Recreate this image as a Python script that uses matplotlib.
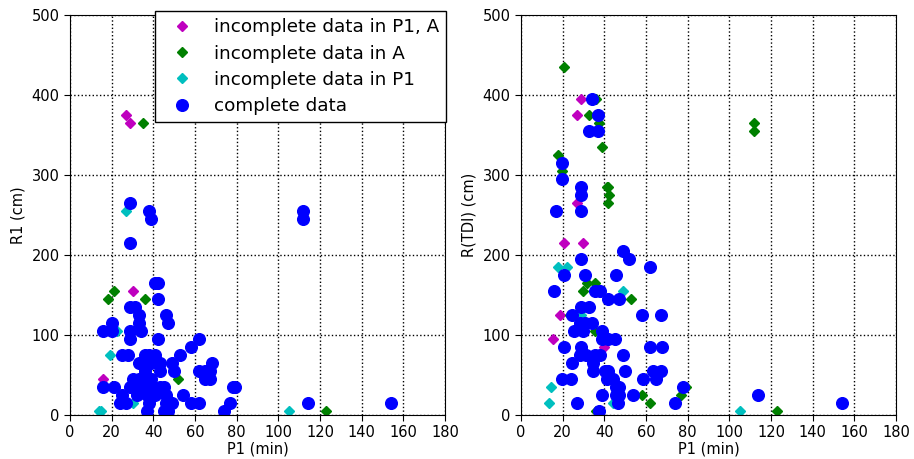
import matplotlib
matplotlib.use("Agg")
import matplotlib.pyplot as plt

# left panel: R1 vs P1
l_pa_x = [27, 29, 30, 16]
l_pa_y = [375, 365, 155, 45]
l_a_x = [35, 18, 21, 36, 52, 123]
l_a_y = [365, 145, 155, 145, 45, 5]
l_p_x = [27, 19, 22.5, 14, 15, 30, 105]
l_p_y = [255, 75, 105, 5, 5, 15, 5]
l_c_x = [29, 38, 39, 29, 112, 112, 114, 154,
         41, 42, 42, 29, 31, 33, 33, 46, 47,
         20, 16, 20, 29, 34, 29, 42, 62, 58,
         25, 28, 36, 38, 41, 53,
         33, 35, 39, 43, 49, 68,
         36, 43, 50, 62, 65, 67,
         30, 33, 36, 39, 65, 67,
         16, 21, 29, 33, 37, 39, 43, 45, 78, 79,
         25, 32, 37, 41, 46, 54,
         24, 27, 38, 46, 49, 58, 62, 77,
         37, 45, 47, 74]
l_c_y = [265, 255, 245, 215, 255, 245, 15, 15,
         165, 165, 145, 135, 135, 125, 115, 125, 115,
         115, 105, 105, 105, 105, 95, 95, 95, 85,
         75, 75, 75, 75, 75, 75,
         65, 65, 65, 65, 65, 65,
         55, 55, 55, 55, 55, 55,
         45, 45, 45, 45, 45, 45,
         35, 35, 35, 35, 35, 35, 35, 35, 35, 35,
         25, 25, 25, 25, 25, 25,
         15, 15, 15, 15, 15, 15, 15, 15,
         5, 5, 5, 5]

# right panel: R(TDI) vs P1
r_pa_x = [28.6, 26.7, 26.7, 20.6, 29.7, 18.7, 15.5, 39.8]
r_pa_y = [395, 375, 265, 215, 215, 125, 95, 85]
r_a_x = [20.6, 32.6, 37.6, 38.8, 17.9, 19.8, 41.1, 41.9, 42.4, 41.6,
         112, 112, 31.5, 35.5, 29.6, 52.6, 35.5, 58, 62, 76.7, 79.4,
         36, 123, 23.5, 36]
r_a_y = [435, 375, 365, 335, 325, 305, 285, 285, 275, 265,
         365, 355, 165, 165, 155, 145, 105, 25, 15, 25, 35,
         5, 5, 125, 395]
r_p_x = [17.9, 21.9, 48.8, 28.8, 14.5, 13.6, 44.3, 105]
r_p_y = [185, 185, 155, 125, 35, 15, 15, 5]
r_c_x = [34, 36.8, 32.6, 36.8, 19.8, 19.8, 28.6, 28.6, 16.8, 28.6,
         48.9, 51.8, 28.6, 61.9, 20.6, 30.9, 45.7, 15.7, 35.5, 37.9,
         41.7, 46.8, 28.6, 32.8, 24.6, 58, 67,
         28.3, 30.7, 33.9, 25.6, 29.9, 38.7, 38.7, 41.9, 45.1,
         20.6, 28.6, 61.9, 67.8,
         28.3, 31.2, 35.5, 37.9, 49.1, 24.6, 34.7,
         34.7, 40.3, 41.9, 49.9, 63.5, 67,
         19.5, 23.8, 41.1, 44.3, 58.7, 64.6,
         45.6, 47, 77.8, 38.7, 45.6, 47, 53.9, 113.7,
         26.7, 46.7, 73.7, 153.9, 37.6]
r_c_y = [395, 375, 355, 355, 315, 295, 285, 275, 255, 255,
         205, 195, 195, 185, 175, 175, 175, 155, 155, 155,
         145, 145, 135, 135, 125, 125, 125,
         115, 115, 115, 105, 105, 105, 95, 95, 95,
         85, 85, 85, 85,
         75, 75, 75, 75, 75, 65, 65,
         55, 55, 55, 55, 55, 55,
         45, 45, 45, 45, 45, 45,
         35, 35, 35, 25, 25, 25, 25, 25,
         15, 15, 15, 15, 5]

labels = ['incomplete data in P1, A', 'incomplete data in A',
          'incomplete data in P1', 'complete data']

cm = (0.75, 0, 0.75)
cg = (0, 0.5, 0)
cc = (0, 0.75, 0.75)
cb = (0, 0, 1)


def draw(ax, pa, a, p, c, ylabel):
    h1, = ax.plot(pa[0], pa[1], 'D', color=cm, mec=cm, ms=5.2, label=labels[0])
    h2, = ax.plot(a[0], a[1], 'D', color=cg, mec=cg, ms=5.2, label=labels[1])
    h3, = ax.plot(p[0], p[1], 'D', color=cc, mec=cc, ms=5.2, label=labels[2])
    h4, = ax.plot(c[0], c[1], 'o', color=cb, mec=cb, ms=8.4, label=labels[3])
    ax.set_xlim(0, 180)
    ax.set_ylim(0, 500)
    ax.set_xticks(range(0, 181, 20))
    ax.set_yticks(range(0, 501, 100))
    ax.grid(True, color='k', linestyle=':', linewidth=1)
    ax.set_axisbelow(True)
    ax.tick_params(direction='out', length=4, labelsize=10.5, top=False, right=False)
    ax.set_xlabel('P1 (min)', fontsize=10.5, labelpad=1)
    ax.set_ylabel(ylabel, fontsize=10.5)
    return [h1, h2, h3, h4]


fig = plt.figure(figsize=(9.14, 4.59), dpi=100)
ax1 = fig.add_axes([70 / 914, 44 / 459, 375 / 914, 400 / 459])
ax2 = fig.add_axes([521 / 914, 44 / 459, 375 / 914, 400 / 459])

handles = draw(ax1, (l_pa_x, l_pa_y), (l_a_x, l_a_y), (l_p_x, l_p_y),
               (l_c_x, l_c_y), 'R1 (cm)')
draw(ax2, (r_pa_x, r_pa_y), (r_a_x, r_a_y), (r_p_x, r_p_y),
     (r_c_x, r_c_y), 'R(TDI) (cm)')

leg = fig.legend(handles, labels, loc='upper left',
                 bbox_to_anchor=(155 / 914, 1 - 11 / 459),
                 borderaxespad=0, numpoints=1, fontsize=13.2,
                 fancybox=False, framealpha=1, edgecolor='k',
                 handlelength=2.1, handletextpad=0.7, labelspacing=0.45)
leg.get_frame().set_linewidth(1)

fig.savefig('out.png', dpi=100)
